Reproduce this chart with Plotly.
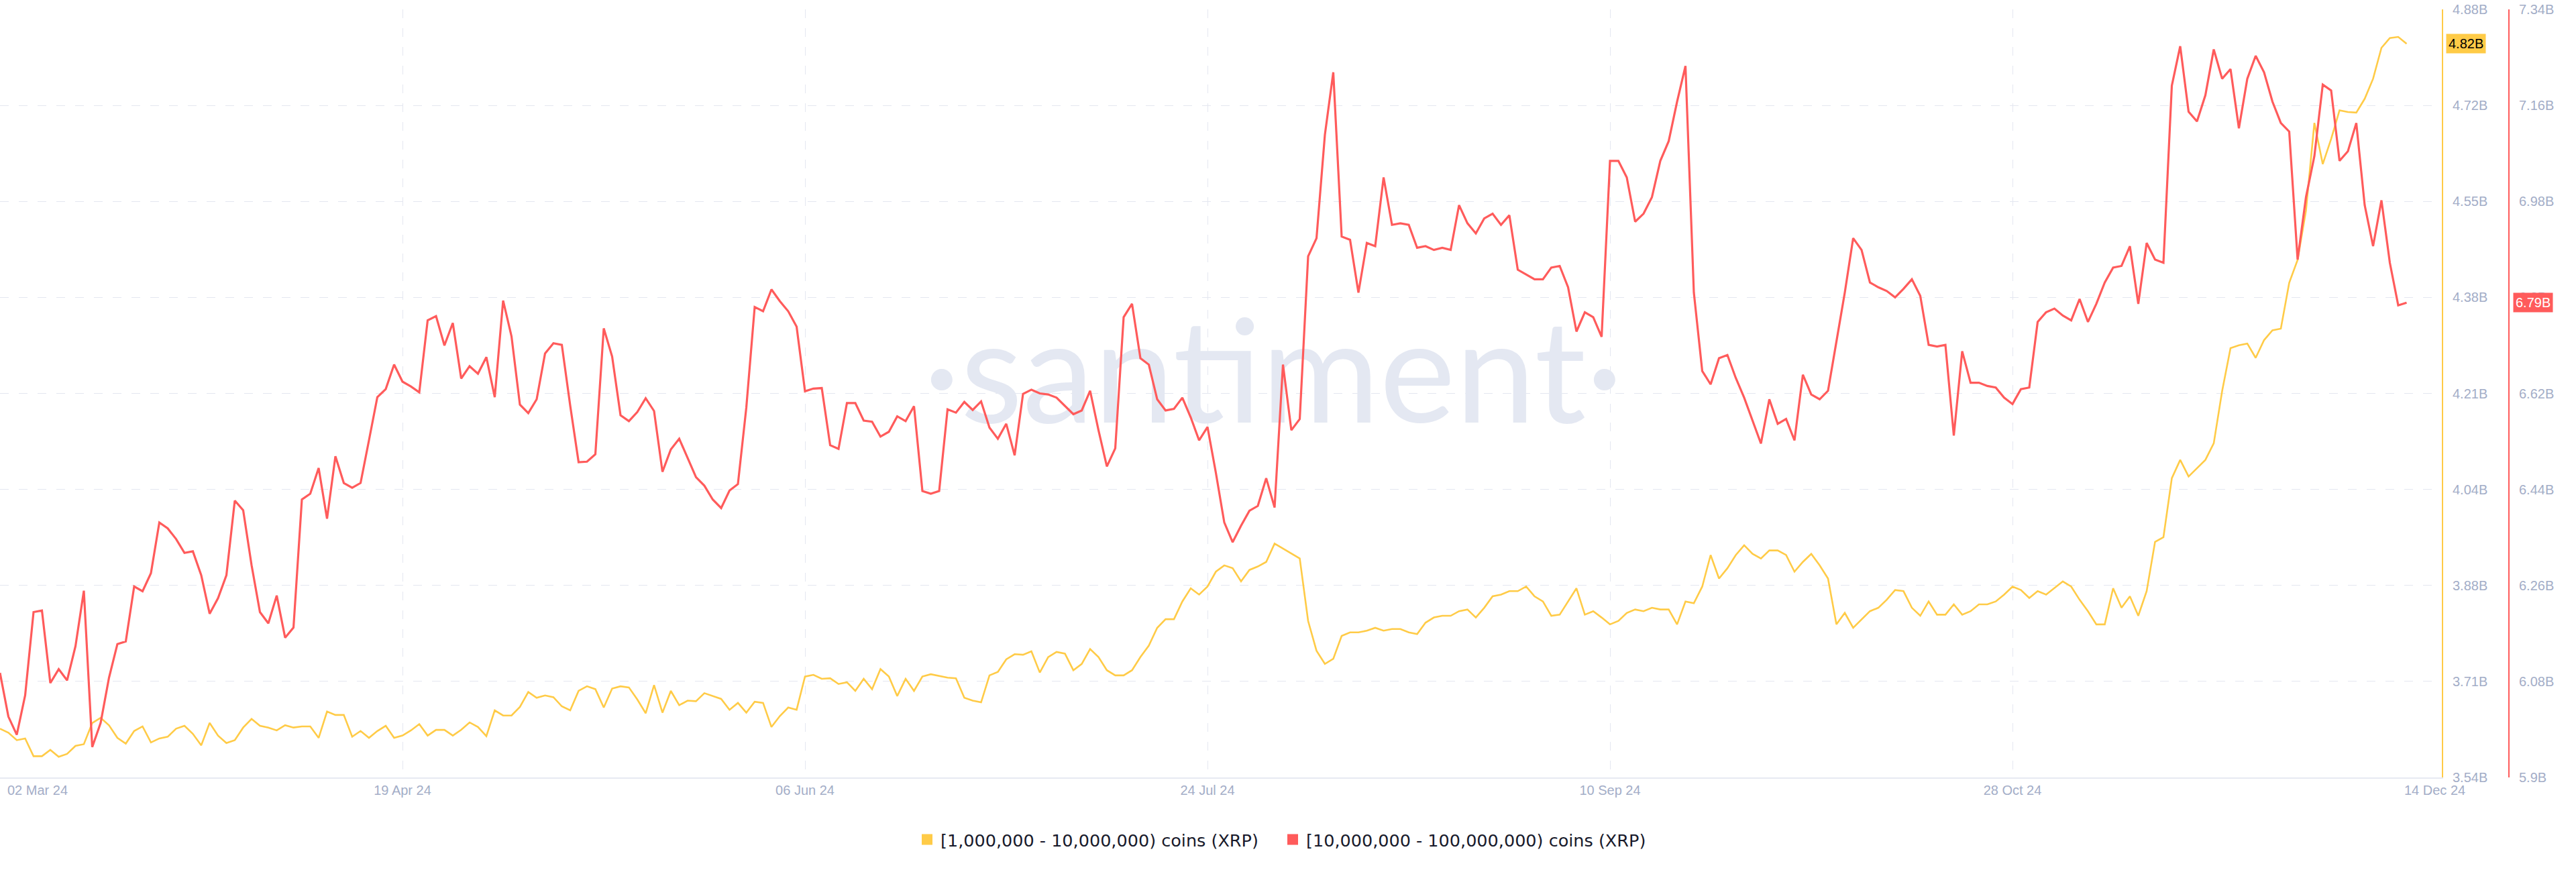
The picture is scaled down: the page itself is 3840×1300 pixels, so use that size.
import pandas as pd
import plotly.graph_objects as go

# ---------------- data (billions of XRP) ----------------
dates = pd.date_range("2024-03-02", "2024-12-14", freq="D")

x_tick_dates = ["2024-03-02", "2024-04-19", "2024-06-06", "2024-07-24", "2024-09-10", "2024-10-28"]
x_tick_text = ["", "19 Apr 24", "06 Jun 24", "24 Jul 24", "10 Sep 24", "28 Oct 24"]
first_label = "02 Mar 24"
last_label = "14 Dec 24"

y1_ticks = [3.543, 3.7105, 3.878, 4.0455, 4.213, 4.3805, 4.548, 4.7155, 4.883]
y1_text = ["3.54B", "3.71B", "3.88B", "4.04B", "4.21B", "4.38B", "4.55B", "4.72B", "4.88B"]
y2_ticks = [5.9, 6.08, 6.26, 6.44, 6.62, 6.8, 6.98, 7.16, 7.34]
y2_text = ["5.9B", "6.08B", "6.26B", "6.44B", "6.62B", "6.8B", "6.98B", "7.16B", "7.34B"]

name_1m = "[1,000,000 - 10,000,000) coins (XRP)"
name_10m = "[10,000,000 - 100,000,000) coins (XRP)"

holders_1m_10m = [
    3.628, 3.621, 3.608, 3.611, 3.580, 3.580, 3.591, 3.579, 3.584, 3.598,
    3.601, 3.638, 3.647, 3.634, 3.612, 3.602, 3.624, 3.632, 3.604, 3.611,
    3.614, 3.628, 3.633, 3.619, 3.599, 3.638, 3.616, 3.603, 3.608, 3.630,
    3.645, 3.633, 3.630, 3.625, 3.634, 3.630, 3.632, 3.632, 3.612, 3.658,
    3.652, 3.652,
    3.614, 3.624, 3.612, 3.624, 3.633, 3.612, 3.616, 3.625, 3.636, 3.616,
    3.626, 3.626, 3.616, 3.626, 3.639, 3.631, 3.615, 3.660, 3.651, 3.651,
    3.666, 3.692, 3.682, 3.686, 3.683, 3.667, 3.660, 3.694, 3.702, 3.697,
    3.665, 3.698, 3.702, 3.700, 3.679, 3.655, 3.704, 3.656, 3.694, 3.669,
    3.677, 3.676,
    3.690, 3.685, 3.680, 3.661, 3.673, 3.656, 3.675, 3.673, 3.631, 3.650,
    3.665, 3.661, 3.719, 3.722, 3.715, 3.716, 3.706, 3.709, 3.694, 3.715,
    3.697, 3.732, 3.719, 3.685, 3.715, 3.694, 3.719, 3.723, 3.720, 3.717,
    3.716, 3.682, 3.677, 3.674, 3.721, 3.727, 3.749, 3.758, 3.757, 3.763,
    3.726,
    3.753, 3.762, 3.759, 3.730, 3.741, 3.767, 3.753, 3.730, 3.721, 3.721,
    3.730, 3.753, 3.773, 3.804, 3.819, 3.819, 3.850, 3.873, 3.862, 3.876,
    3.902, 3.913, 3.908, 3.885, 3.905, 3.911, 3.919, 3.951, 3.942, 3.933,
    3.925, 3.816, 3.764, 3.741, 3.750, 3.790, 3.796, 3.796, 3.799, 3.804,
    3.799, 3.802, 3.802, 3.796, 3.793, 3.813, 3.822, 3.825, 3.825, 3.833,
    3.836, 3.822, 3.839, 3.859, 3.862, 3.868, 3.868, 3.876, 3.859, 3.850,
    3.825, 3.827, 3.850, 3.873, 3.827, 3.833, 3.822, 3.810, 3.816, 3.830,
    3.836, 3.833, 3.839, 3.836, 3.836, 3.810, 3.850, 3.847, 3.876, 3.931,
    3.890, 3.908, 3.931, 3.948, 3.933, 3.925, 3.939, 3.939, 3.931, 3.902,
    3.919, 3.933, 3.913, 3.890, 3.810, 3.830, 3.804, 3.819, 3.833, 3.839,
    3.853, 3.870, 3.868, 3.839, 3.825, 3.850, 3.827, 3.827, 3.845, 3.827,
    3.833, 3.845, 3.845, 3.850, 3.862, 3.876, 3.870, 3.856, 3.868, 3.862,
    3.873, 3.885, 3.876, 3.853, 3.833, 3.810, 3.810, 3.873, 3.839, 3.859,
    3.825, 3.868, 3.954, 3.962, 4.065, 4.097, 4.068, 4.083, 4.097, 4.126,
    4.217, 4.292, 4.297, 4.300, 4.275, 4.306, 4.323, 4.326, 4.406, 4.446,
    4.532, 4.685, 4.613, 4.657, 4.707, 4.704, 4.703, 4.727, 4.762, 4.816,
    4.833, 4.835, 4.823,
]

holders_10m_100m = [
    6.096, 6.014, 5.980, 6.054, 6.210, 6.213, 6.077, 6.103, 6.082, 6.146,
    6.250, 5.957, 6.002, 6.087, 6.150, 6.155, 6.258, 6.249, 6.283, 6.378,
    6.367, 6.347, 6.321, 6.324, 6.279, 6.207, 6.236, 6.279, 6.419, 6.401,
    6.298, 6.210, 6.189, 6.241, 6.162, 6.181, 6.421, 6.432, 6.480, 6.385,
    6.502, 6.452,
    6.443, 6.452, 6.532, 6.613, 6.628, 6.674, 6.642, 6.633, 6.622, 6.757,
    6.765, 6.710, 6.752, 6.648, 6.671, 6.657, 6.688, 6.613, 6.794, 6.727,
    6.599, 6.583, 6.609, 6.695, 6.714, 6.711, 6.597, 6.491, 6.492, 6.506,
    6.742, 6.689, 6.579, 6.568, 6.585, 6.611, 6.587, 6.473, 6.515, 6.535,
    6.499, 6.463,
    6.447, 6.421, 6.405, 6.438, 6.450, 6.593, 6.782, 6.774, 6.815, 6.793,
    6.774, 6.745, 6.624, 6.629, 6.630, 6.523, 6.516, 6.602, 6.602, 6.569,
    6.567, 6.539, 6.548, 6.577, 6.568, 6.596, 6.437, 6.432, 6.437, 6.590,
    6.584, 6.604, 6.589, 6.605, 6.556, 6.535, 6.563, 6.504, 6.619, 6.627,
    6.620,
    6.618, 6.612, 6.597, 6.581, 6.588, 6.625, 6.551, 6.483, 6.517, 6.763,
    6.788, 6.686, 6.674, 6.609, 6.588, 6.591, 6.612, 6.575, 6.532, 6.557,
    6.471, 6.378, 6.341, 6.372, 6.400, 6.409, 6.461, 6.406, 6.674, 6.551,
    6.572, 6.877, 6.911, 7.105, 7.222, 6.914, 6.908, 6.809, 6.902, 6.896,
    7.025, 6.936, 6.939, 6.936, 6.893, 6.896, 6.889, 6.893, 6.889, 6.973,
    6.939, 6.920, 6.948, 6.957, 6.936, 6.954, 6.852, 6.843, 6.834, 6.834,
    6.856, 6.859, 6.819, 6.736, 6.772, 6.763, 6.726, 7.056, 7.056, 7.025,
    6.942, 6.957, 6.988, 7.056, 7.093, 7.167, 7.234, 6.809, 6.662, 6.637,
    6.686, 6.692, 6.649, 6.612, 6.569, 6.526, 6.609, 6.563, 6.572, 6.532,
    6.655, 6.618, 6.609, 6.625, 6.717, 6.809, 6.911, 6.889, 6.828, 6.819,
    6.812, 6.800, 6.816, 6.834, 6.803, 6.711, 6.708, 6.711, 6.541, 6.699,
    6.640, 6.640, 6.634, 6.631, 6.612, 6.600, 6.628, 6.631, 6.754, 6.772,
    6.779, 6.766, 6.757, 6.797, 6.754, 6.788, 6.828, 6.856, 6.859, 6.896,
    6.788, 6.902, 6.871, 6.865, 7.197, 7.271, 7.148, 7.130, 7.179, 7.265,
    7.210, 7.228, 7.117, 7.210, 7.253, 7.222, 7.167, 7.127, 7.111, 6.871,
    6.988, 7.065, 7.199, 7.188, 7.056, 7.074, 7.127, 6.973, 6.896, 6.982,
    6.865, 6.785, 6.790,
]

# ---------------- styling ----------------
W, H = 3840, 1300
PLOT_RIGHT = 3640
RED_AXIS_X = 3740
YEL = "#FFCB47"
RED = "#FF5B5B"
TICK_COLOR = "#A3ADC7"
GRID_COLOR = "#E4E7F0"
TICK_FONT = dict(family="Arial, Liberation Sans, sans-serif", size=20, color=TICK_COLOR)
LEGEND_FONT = dict(family="DejaVu Sans, sans-serif", size=25.5, color="#181A2B")
GRID_DASH = "13px,15px"

x_start = dates[0]
x_end = dates[0] + pd.Timedelta(days=291.2)

fig = go.Figure()

# watermark (drawn first so the lines sit on top)
fig.add_trace(go.Scatter(
    x=[pd.Timestamp("2024-07-31 20:00")], y=[4.225], mode="text",
    text=["·santiment·"],
    textfont=dict(family="Lato, DejaVu Sans, sans-serif", size=214, color="#E4E8F2"),
    hoverinfo="skip", showlegend=False, yaxis="y", cliponaxis=False,
))

fig.add_trace(go.Scatter(
    x=dates, y=holders_1m_10m, mode="lines", name=name_1m,
    line=dict(color=YEL, width=2.6), yaxis="y", showlegend=False,
))
fig.add_trace(go.Scatter(
    x=dates, y=holders_10m_100m, mode="lines", name=name_10m,
    line=dict(color=RED, width=3.2), yaxis="y2", showlegend=False,
))

# legend entries with square swatches (one legend box per entry)
fig.add_trace(go.Scatter(
    x=[None], y=[None], mode="markers", name=name_1m,
    marker=dict(symbol="square", size=17, color=YEL),
    yaxis="y", showlegend=True, legend="legend",
))
fig.add_trace(go.Scatter(
    x=[None], y=[None], mode="markers", name=name_10m,
    marker=dict(symbol="square", size=17, color=RED),
    yaxis="y", showlegend=True, legend="legend2",
))

legend_common = dict(
    orientation="h", xref="paper", xanchor="left",
    yref="container", y=1 - 1252 / H, yanchor="middle",
    font=LEGEND_FONT, itemsizing="trace", bgcolor="rgba(0,0,0,0)",
    borderwidth=0,
)

fig.update_layout(
    width=W, height=H, autosize=False,
    margin=dict(l=0, r=0, t=14, b=141),
    paper_bgcolor="white", plot_bgcolor="white",
    showlegend=True,
    legend=dict(legend_common, x=(1385 - 23) / W),
    legend2=dict(legend_common, x=(1930 - 23) / W),
    xaxis=dict(
        type="date", domain=[0, PLOT_RIGHT / W], range=[x_start, x_end],
        tickvals=x_tick_dates, ticktext=x_tick_text, tickfont=TICK_FONT,
        showgrid=True, gridcolor=GRID_COLOR, gridwidth=1.3, griddash=GRID_DASH,
        showline=True, linecolor="#E7E9F2", linewidth=2, ticks="",
        zeroline=False, fixedrange=True,
    ),
    yaxis=dict(
        range=[3.543, 4.883], side="right", anchor="x",
        tickvals=y1_ticks, ticktext=y1_text, tickfont=TICK_FONT,
        showgrid=True, gridcolor=GRID_COLOR, gridwidth=1.3, griddash=GRID_DASH,
        showline=True, linecolor=YEL, linewidth=2, ticks="",
        ticklabelstandoff=10, zeroline=False,
    ),
    yaxis2=dict(
        range=[5.9, 7.34], side="right", overlaying="y", anchor="free",
        position=RED_AXIS_X / W,
        tickvals=y2_ticks, ticktext=y2_text, tickfont=TICK_FONT,
        showgrid=False, showline=True, linecolor=RED, linewidth=2, ticks="",
        ticklabelstandoff=10, zeroline=False,
    ),
)

annotations = [
    dict(x=dates[0], xref="x", y=0, yref="paper", text=first_label, showarrow=False,
         xanchor="left", yanchor="top", xshift=9, yshift=-6, font=TICK_FONT),
    dict(x=dates[-1], xref="x", y=0, yref="paper", text=last_label, showarrow=False,
         xanchor="center", yanchor="top", xshift=42, yshift=-6, font=TICK_FONT),
    dict(x=3646 / W, xref="paper", y=holders_1m_10m[-1], yref="y", text="4.82B",
         showarrow=False, xanchor="left", yanchor="middle", bgcolor=YEL, borderpad=3,
         font=dict(family="Arial, Liberation Sans, sans-serif", size=20, color="#000000")),
    dict(x=3746 / W, xref="paper", y=holders_10m_100m[-1], yref="y2", text="6.79B",
         showarrow=False, xanchor="left", yanchor="middle", bgcolor=RED, borderpad=3,
         font=dict(family="Arial, Liberation Sans, sans-serif", size=20, color="#FFFFFF")),
]
fig.update_layout(annotations=annotations)

fig.write_html("out.html")
